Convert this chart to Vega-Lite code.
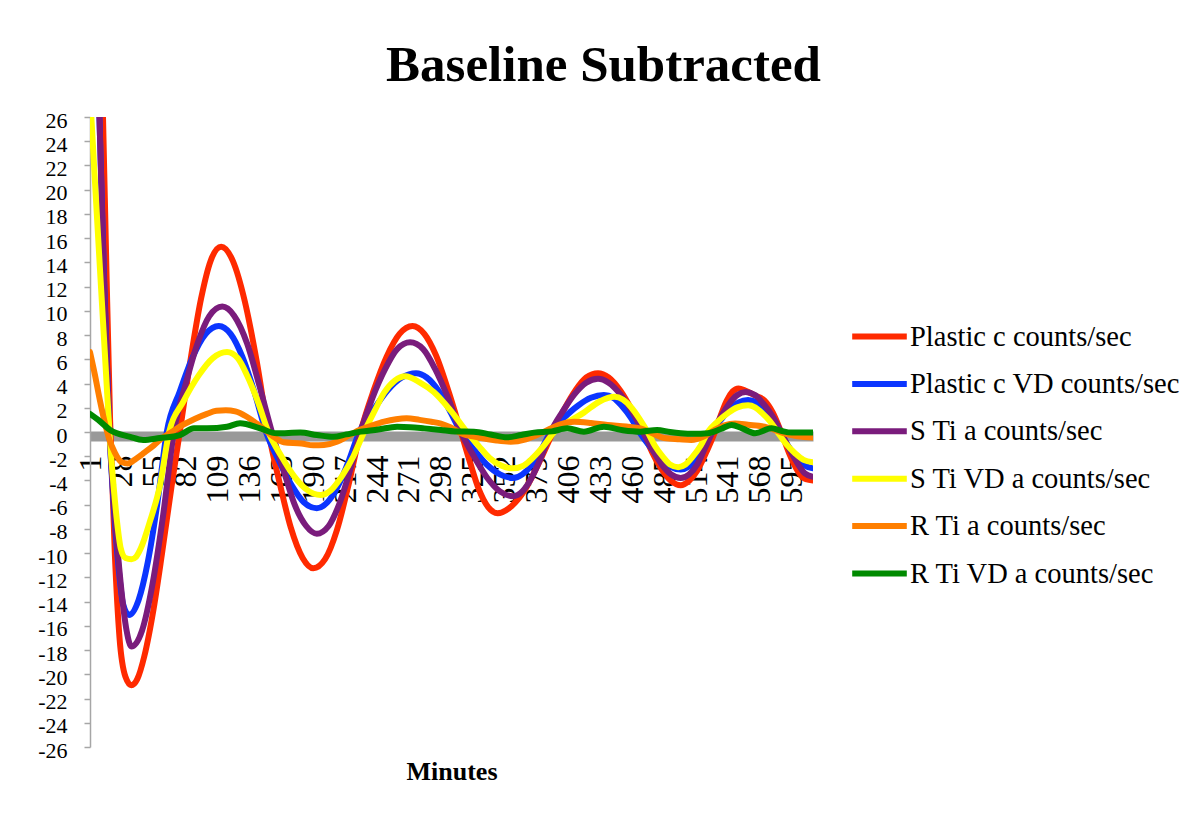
{
  "$schema": "https://vega.github.io/schema/vega-lite/v6.json",
  "width": 723,
  "height": 630,
  "autosize": {"type": "none"},
  "padding": {"left": 90, "top": 117, "right": 388, "bottom": 68},
  "background": "white",
  "config": {"view": {"stroke": null}, "axis": {"grid": false}},
  "title": {
    "text": "Baseline Subtracted",
    "font": "Liberation Serif",
    "fontSize": 51,
    "fontWeight": "bold",
    "color": "black",
    "anchor": "middle",
    "frame": "group",
    "dx": 152,
    "offset": -23,
    "baseline": "alphabetic"
  },
  "datasets": {
    "plasticC": [
      {"m":1,"v":70},{"m":7,"v":45},{"m":12,"v":26},{"m":15,"v":13},{"m":18,"v":1},{"m":22,"v":-10},{"m":26,"v":-17},{"m":31,"v":-20.2},{"m":36,"v":-20.9},{"m":41,"v":-20.4},{"m":47,"v":-18.5},{"m":55,"v":-14.5},{"m":62,"v":-10},{"m":70,"v":-4.5},{"m":77,"v":0},{"m":86,"v":5.9},{"m":95,"v":11},{"m":103,"v":14.1},{"m":112,"v":15.3},{"m":122,"v":14.1},{"m":132,"v":10.8},{"m":142,"v":5.9},{"m":152,"v":0},{"m":162,"v":-4.4},{"m":171,"v":-7.9},{"m":181,"v":-10.4},{"m":190,"v":-11.25},{"m":200,"v":-10.5},{"m":210,"v":-8.1},{"m":220,"v":-4.3},{"m":230,"v":0},{"m":241,"v":3.4},{"m":252,"v":6.2},{"m":263,"v":8.1},{"m":274,"v":8.75},{"m":284,"v":8.1},{"m":294,"v":6.3},{"m":305,"v":3.2},{"m":315,"v":0},{"m":323,"v":-2.6},{"m":330,"v":-4.7},{"m":338,"v":-6.2},{"m":346,"v":-6.7},{"m":358,"v":-6.1},{"m":369,"v":-4.8},{"m":381,"v":-2.55},{"m":393,"v":0},{"m":402,"v":1.8},{"m":412,"v":3.45},{"m":421,"v":4.5},{"m":431,"v":4.85},{"m":440,"v":4.5},{"m":450,"v":3.4},{"m":460,"v":1.75},{"m":469,"v":0},{"m":477,"v":-1.7},{"m":485,"v":-3.1},{"m":493,"v":-4.05},{"m":501,"v":-4.4},{"m":508,"v":-4.05},{"m":515,"v":-3.2},{"m":523,"v":-1.6},{"m":530,"v":0},{"m":535,"v":1.4},{"m":540,"v":2.6},{"m":545,"v":3.35},{"m":550,"v":3.6},{"m":556,"v":3.4},{"m":564,"v":3.0},{"m":572,"v":2.6},{"m":579,"v":1.6},{"m":586,"v":0},{"m":593,"v":-1.8},{"m":600,"v":-3.2},{"m":607,"v":-3.9},{"m":613,"v":-4.0}
    ],
    "plasticCVD": [
      {"m":1,"v":55},{"m":9,"v":26},{"m":13,"v":12.5},{"m":17,"v":1},{"m":21,"v":-6},{"m":25,"v":-11},{"m":29,"v":-14.2},{"m":34,"v":-15.1},{"m":42,"v":-13.9},{"m":50,"v":-10.7},{"m":58,"v":-5.9},{"m":66,"v":0},{"m":77,"v":3.35},{"m":88,"v":6.2},{"m":99,"v":8.1},{"m":110,"v":8.75},{"m":120,"v":8.1},{"m":130,"v":6.2},{"m":140,"v":3.35},{"m":150,"v":0},{"m":161,"v":-2.4},{"m":172,"v":-4.45},{"m":182,"v":-5.8},{"m":193,"v":-6.3},{"m":202,"v":-5.8},{"m":211,"v":-4.45},{"m":220,"v":-2.4},{"m":229,"v":0},{"m":241,"v":1.85},{"m":253,"v":3.45},{"m":265,"v":4.5},{"m":277,"v":4.85},{"m":286,"v":4.5},{"m":296,"v":3.4},{"m":305,"v":1.85},{"m":315,"v":0},{"m":326,"v":-1.45},{"m":337,"v":-2.7},{"m":348,"v":-3.5},{"m":359,"v":-3.8},{"m":367,"v":-3.5},{"m":375,"v":-2.7},{"m":383,"v":-1.45},{"m":391,"v":0},{"m":402,"v":1.15},{"m":414,"v":2.17},{"m":425,"v":2.82},{"m":436,"v":3.05},{"m":444,"v":2.82},{"m":451,"v":2.16},{"m":459,"v":1.15},{"m":466,"v":0},{"m":475,"v":-1.2},{"m":484,"v":-2.2},{"m":492,"v":-2.86},{"m":501,"v":-3.1},{"m":508,"v":-2.86},{"m":514,"v":-2.19},{"m":521,"v":-1.15},{"m":527,"v":0},{"m":535,"v":1.0},{"m":542,"v":1.85},{"m":550,"v":2.44},{"m":558,"v":2.64},{"m":565,"v":2.44},{"m":571,"v":1.87},{"m":578,"v":1.0},{"m":585,"v":0},{"m":592,"v":-1.15},{"m":599,"v":-2.1},{"m":606,"v":-2.77},{"m":613,"v":-3.0}
    ],
    "sTiA": [
      {"m":1,"v":48},{"m":9,"v":26},{"m":13,"v":12},{"m":17,"v":1},{"m":22,"v":-6.8},{"m":27,"v":-12.5},{"m":32,"v":-16.4},{"m":36,"v":-17.7},{"m":45,"v":-16.4},{"m":54,"v":-12.5},{"m":63,"v":-6.8},{"m":72,"v":0},{"m":82,"v":3.96},{"m":92,"v":7.3},{"m":102,"v":9.56},{"m":113,"v":10.35},{"m":123,"v":9.6},{"m":134,"v":7.3},{"m":144,"v":3.96},{"m":155,"v":0},{"m":165,"v":-3.2},{"m":174,"v":-5.94},{"m":184,"v":-7.76},{"m":193,"v":-8.4},{"m":203,"v":-7.76},{"m":212,"v":-5.94},{"m":221,"v":-3.2},{"m":230,"v":0},{"m":240,"v":2.8},{"m":251,"v":5.23},{"m":261,"v":6.84},{"m":272,"v":7.4},{"m":283,"v":6.84},{"m":293,"v":5.23},{"m":304,"v":2.83},{"m":315,"v":0},{"m":326,"v":-2.03},{"m":337,"v":-3.75},{"m":348,"v":-4.9},{"m":359,"v":-5.3},{"m":367,"v":-4.9},{"m":375,"v":-3.75},{"m":383,"v":-2.03},{"m":391,"v":0},{"m":401,"v":1.68},{"m":411,"v":3.11},{"m":421,"v":4.07},{"m":431,"v":4.4},{"m":440,"v":4.07},{"m":450,"v":3.11},{"m":460,"v":1.68},{"m":469,"v":0},{"m":477,"v":-1.45},{"m":485,"v":-2.69},{"m":493,"v":-3.51},{"m":501,"v":-3.8},{"m":508,"v":-3.51},{"m":515,"v":-2.69},{"m":521,"v":-1.45},{"m":528,"v":0},{"m":535,"v":1.26},{"m":542,"v":2.33},{"m":549,"v":3.05},{"m":556,"v":3.3},{"m":564,"v":3.05},{"m":571,"v":2.33},{"m":579,"v":1.26},{"m":586,"v":0},{"m":593,"v":-1.42},{"m":600,"v":-2.6},{"m":606,"v":-3.4},{"m":613,"v":-3.7}
    ],
    "sTiVDA": [
      {"m":1,"v":28},{"m":5,"v":21},{"m":10,"v":12.5},{"m":14,"v":5.8},{"m":18,"v":-0.8},{"m":21,"v":-4.5},{"m":24,"v":-7.5},{"m":27,"v":-9.6},{"m":31,"v":-10.4},{"m":36,"v":-10.5},{"m":40,"v":-10.3},{"m":44,"v":-9.6},{"m":52,"v":-7.3},{"m":60,"v":-4.5},{"m":68,"v":0},{"m":80,"v":2.5},{"m":93,"v":4.67},{"m":105,"v":6.1},{"m":117,"v":6.6},{"m":126,"v":6.1},{"m":134,"v":4.67},{"m":143,"v":2.53},{"m":152,"v":0},{"m":163,"v":-2.0},{"m":174,"v":-3.68},{"m":185,"v":-4.8},{"m":196,"v":-5.2},{"m":205,"v":-4.8},{"m":214,"v":-3.68},{"m":224,"v":-2.0},{"m":233,"v":0},{"m":242,"v":1.76},{"m":250,"v":3.25},{"m":259,"v":4.25},{"m":268,"v":4.6},{"m":280,"v":4.1},{"m":292,"v":3.3},{"m":306,"v":1.8},{"m":320,"v":0},{"m":330,"v":-1.15},{"m":339,"v":-2.12},{"m":349,"v":-2.77},{"m":359,"v":-3.0},{"m":368,"v":-2.77},{"m":376,"v":-2.12},{"m":385,"v":-1.15},{"m":394,"v":0},{"m":407,"v":0.9},{"m":419,"v":1.6},{"m":432,"v":2.5},{"m":445,"v":2.9},{"m":452,"v":2.68},{"m":459,"v":2.05},{"m":466,"v":1.11},{"m":473,"v":0},{"m":479,"v":-1.11},{"m":486,"v":-2.05},{"m":492,"v":-2.68},{"m":499,"v":-2.9},{"m":505,"v":-2.68},{"m":511,"v":-2.05},{"m":518,"v":-1.11},{"m":524,"v":0},{"m":532,"v":0.84},{"m":541,"v":1.56},{"m":549,"v":2.03},{"m":558,"v":2.2},{"m":564,"v":2.03},{"m":570,"v":1.56},{"m":577,"v":0.84},{"m":583,"v":0},{"m":590,"v":-0.96},{"m":598,"v":-1.77},{"m":605,"v":-2.3},{"m":613,"v":-2.5}
    ],
    "rTiA": [
      {"m":1,"v":6.6},{"m":5,"v":4.8},{"m":9,"v":2.8},{"m":13,"v":1.0},{"m":17,"v":-0.5},{"m":22,"v":-1.7},{"m":28,"v":-2.5},{"m":33,"v":-2.6},{"m":40,"v":-2.2},{"m":47,"v":-1.7},{"m":55,"v":-1.1},{"m":62,"v":-0.5},{"m":70,"v":0},{"m":80,"v":0.6},{"m":90,"v":1.1},{"m":100,"v":1.5},{"m":108,"v":1.75},{"m":116,"v":1.8},{"m":124,"v":1.7},{"m":133,"v":1.3},{"m":142,"v":0.7},{"m":150,"v":0.1},{"m":158,"v":-0.5},{"m":165,"v":-0.85},{"m":180,"v":-0.95},{"m":190,"v":-1.1},{"m":199,"v":-1.07},{"m":210,"v":-0.8},{"m":220,"v":-0.3},{"m":230,"v":0.2},{"m":240,"v":0.55},{"m":250,"v":0.85},{"m":260,"v":1.05},{"m":269,"v":1.13},{"m":280,"v":1.0},{"m":290,"v":0.85},{"m":298,"v":0.7},{"m":306,"v":0.4},{"m":315,"v":-0.1},{"m":330,"v":-0.45},{"m":345,"v":-0.7},{"m":357,"v":-0.8},{"m":370,"v":-0.6},{"m":385,"v":0},{"m":398,"v":0.6},{"m":411,"v":0.85},{"m":425,"v":0.75},{"m":439,"v":0.58},{"m":455,"v":0.45},{"m":467,"v":0.3},{"m":477,"v":-0.1},{"m":487,"v":-0.5},{"m":500,"v":-0.6},{"m":510,"v":-0.66},{"m":520,"v":-0.4},{"m":530,"v":0.2},{"m":538,"v":0.55},{"m":547,"v":0.7},{"m":558,"v":0.6},{"m":572,"v":0.44},{"m":580,"v":0.2},{"m":588,"v":-0.1},{"m":600,"v":-0.35},{"m":613,"v":-0.45}
    ],
    "rTiVDA": [
      {"m":1,"v":1.5},{"m":8,"v":1.0},{"m":18,"v":0.17},{"m":35,"v":-0.4},{"m":46,"v":-0.66},{"m":60,"v":-0.5},{"m":77,"v":-0.25},{"m":89,"v":0.3},{"m":100,"v":0.3},{"m":117,"v":0.44},{"m":128,"v":0.72},{"m":145,"v":0.3},{"m":159,"v":-0.1},{"m":179,"v":-0.05},{"m":193,"v":-0.25},{"m":207,"v":-0.4},{"m":218,"v":-0.2},{"m":230,"v":0.03},{"m":245,"v":0.2},{"m":261,"v":0.44},{"m":272,"v":0.4},{"m":284,"v":0.3},{"m":298,"v":0.17},{"m":310,"v":0.05},{"m":326,"v":0.03},{"m":340,"v":-0.2},{"m":354,"v":-0.44},{"m":366,"v":-0.25},{"m":377,"v":-0.05},{"m":392,"v":0.05},{"m":405,"v":0.3},{"m":419,"v":0.03},{"m":436,"v":0.44},{"m":452,"v":0.15},{"m":467,"v":0.03},{"m":481,"v":0.17},{"m":492,"v":0},{"m":501,"v":-0.1},{"m":512,"v":-0.15},{"m":524,"v":-0.1},{"m":535,"v":0.25},{"m":544,"v":0.58},{"m":553,"v":0.3},{"m":564,"v":-0.1},{"m":578,"v":0.3},{"m":586,"v":0.1},{"m":595,"v":-0.05},{"m":604,"v":-0.05},{"m":613,"v":-0.05}
    ]
  },
  "encoding": {
    "x": {
      "field": "m",
      "type": "quantitative",
      "scale": {"domain": [1, 613], "nice": false, "zero": false},
      "axis": {
        "values": [1, 28, 55, 82, 109, 136, 163, 190, 217, 244, 271, 298, 325, 352, 379, 406, 433, 460, 487, 514, 541, 568, 595],
        "labelAngle": -90,
        "labelFont": "Liberation Serif",
        "labelFontSize": 32,
        "labelColor": "black",
        "labelPadding": 19,
        "labelFlush": false,
        "labelOverlap": false,
        "labelBound": false,
        "ticks": false,
        "tickSize": 0,
        "domainColor": "#999999",
        "domainWidth": 10,
        "offset": -311,
        "title": "Minutes",
        "titleFont": "Liberation Serif",
        "titleFontSize": 26,
        "titleFontWeight": "bold",
        "titleColor": "black",
        "titleBaseline": "alphabetic",
        "titleY": 343
      }
    },
    "y": {
      "field": "v",
      "type": "quantitative",
      "scale": {"domain": [-26, 26], "nice": false, "zero": false},
      "axis": {
        "values": [-26, -24, -22, -20, -18, -16, -14, -12, -10, -8, -6, -4, -2, 0, 2, 4, 6, 8, 10, 12, 14, 16, 18, 20, 22, 24, 26],
        "labelExpr": "datum.value + ''",
        "labelFont": "Liberation Serif",
        "labelFontSize": 22,
        "labelColor": "black",
        "labelPadding": 17,
        "labelOffset": 3,
        "labelOverlap": false,
        "domainColor": "#A6A6A6",
        "domainWidth": 1.5,
        "tickColor": "#A6A6A6",
        "tickWidth": 1.5,
        "tickSize": 6,
        "title": null
      }
    }
  },
  "layer": [
    {
      "data": {"name": "plasticC"},
      "mark": {"type": "line", "strokeWidth": 6, "strokeCap": "round", "strokeJoin": "round", "interpolate": "monotone", "clip": true},
      "encoding": {
        "color": {
          "datum": "Plastic c counts/sec",
          "type": "nominal",
          "scale": {
            "domain": ["Plastic c counts/sec", "Plastic c VD counts/sec", "S Ti a counts/sec", "S Ti VD a counts/sec", "R Ti a counts/sec", "R Ti VD a counts/sec"],
            "range": ["#FF2A00", "#0B35FF", "#7A1C7C", "#FFFF00", "#FF7F00", "#008A00"]
          },
          "legend": {
            "title": null,
            "orient": "none",
            "legendX": 767,
            "legendY": 197,
            "padding": 0,
            "symbolType": "M-1.4,0H1.4",
            "symbolSize": 1521,
            "symbolStrokeWidth": 6,
            "labelFont": "Liberation Serif",
            "labelFontSize": 28.5,
            "labelColor": "black",
            "labelLimit": 400,
            "labelOffset": 8,
            "rowPadding": 10.4
          }
        }
      }
    },
    {
      "data": {"name": "plasticCVD"},
      "mark": {"type": "line", "strokeWidth": 6, "strokeCap": "round", "strokeJoin": "round", "interpolate": "monotone", "clip": true},
      "encoding": {"color": {"datum": "Plastic c VD counts/sec", "type": "nominal"}}
    },
    {
      "data": {"name": "sTiA"},
      "mark": {"type": "line", "strokeWidth": 6, "strokeCap": "round", "strokeJoin": "round", "interpolate": "monotone", "clip": true},
      "encoding": {"color": {"datum": "S Ti a counts/sec", "type": "nominal"}}
    },
    {
      "data": {"name": "sTiVDA"},
      "mark": {"type": "line", "strokeWidth": 6, "strokeCap": "round", "strokeJoin": "round", "interpolate": "monotone", "clip": true},
      "encoding": {"color": {"datum": "S Ti VD a counts/sec", "type": "nominal"}}
    },
    {
      "data": {"name": "rTiA"},
      "mark": {"type": "line", "strokeWidth": 6, "strokeCap": "round", "strokeJoin": "round", "interpolate": "monotone", "clip": true},
      "encoding": {"color": {"datum": "R Ti a counts/sec", "type": "nominal"}}
    },
    {
      "data": {"name": "rTiVDA"},
      "mark": {"type": "line", "strokeWidth": 6, "strokeCap": "round", "strokeJoin": "round", "interpolate": "monotone", "clip": true},
      "encoding": {"color": {"datum": "R Ti VD a counts/sec", "type": "nominal"}}
    }
  ]
}
